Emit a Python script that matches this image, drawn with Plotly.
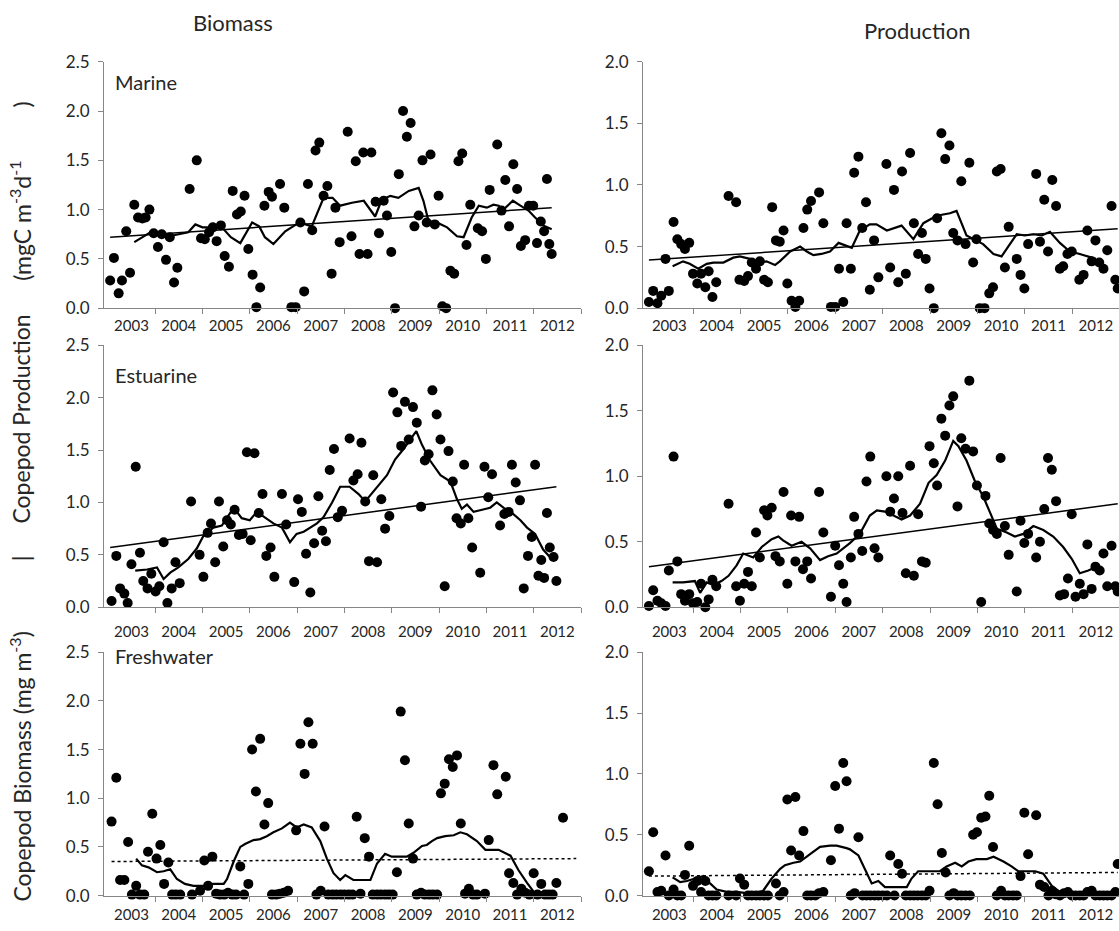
import plotly.graph_objects as go

# ---------------- data (decimal year, value) ----------------
marine_biomass = [
(2003.05,0.28),(2003.13,0.51),(2003.23,0.15),(2003.30,0.28),(2003.39,0.78),(2003.47,0.36),(2003.56,1.05),(2003.64,0.92),(2003.73,0.91),(2003.80,0.92),(2003.88,1.00),(2003.97,0.76),
(2004.06,0.62),(2004.14,0.75),(2004.23,0.49),(2004.31,0.72),(2004.40,0.26),(2004.47,0.41),(2004.73,1.21),(2004.88,1.50),(2004.97,0.71),
(2005.05,0.70),(2005.14,0.77),(2005.22,0.82),(2005.30,0.68),(2005.39,0.84),(2005.47,0.53),(2005.56,0.42),(2005.64,1.19),(2005.73,0.95),(2005.81,0.98),(2005.89,1.14),(2005.97,0.60),
(2006.06,0.34),(2006.14,0.01),(2006.22,0.21),(2006.31,1.04),(2006.40,1.18),(2006.47,1.13),(2006.64,1.26),(2006.73,1.02),(2006.88,0.01),(2006.97,0.01),
(2007.07,0.87),(2007.15,0.17),(2007.23,1.26),(2007.32,0.79),(2007.39,1.60),(2007.47,1.68),(2007.56,1.14),(2007.64,1.24),(2007.73,0.35),(2007.81,1.02),(2007.90,0.67),
(2008.07,1.79),(2008.15,0.73),(2008.24,1.49),(2008.32,0.55),(2008.40,1.58),(2008.49,0.55),(2008.57,1.58),(2008.66,1.08),(2008.73,0.76),(2008.83,1.09),(2008.90,0.94),(2008.99,0.57),
(2009.07,0.00),(2009.15,1.36),(2009.24,2.00),(2009.32,1.74),(2009.40,1.88),(2009.48,0.83),(2009.57,0.94),(2009.65,1.50),(2009.74,0.87),(2009.82,1.56),(2009.91,0.85),(2009.99,1.14),
(2010.07,0.02),(2010.15,0.00),(2010.24,0.38),(2010.32,0.35),(2010.41,1.49),(2010.49,1.57),(2010.58,0.64),(2010.66,1.05),(2010.82,0.81),(2010.91,0.78),(2010.99,0.50),
(2011.07,1.20),(2011.23,1.66),(2011.32,0.99),(2011.40,1.30),(2011.48,0.83),(2011.57,1.46),(2011.65,1.21),(2011.73,0.63),(2011.82,0.69),(2011.90,1.04),(2011.99,1.04),
(2012.07,0.66),(2012.15,0.88),(2012.22,0.78),(2012.28,1.31),(2012.33,0.65),(2012.38,0.55)]

marine_production = [
(2003.07,0.05),(2003.16,0.14),(2003.25,0.04),(2003.33,0.10),(2003.42,0.40),(2003.49,0.14),(2003.59,0.70),(2003.67,0.56),(2003.75,0.52),(2003.83,0.48),(2003.92,0.53),
(2004.00,0.28),(2004.09,0.20),(2004.17,0.28),(2004.26,0.17),(2004.33,0.30),(2004.41,0.09),(2004.49,0.21),(2004.75,0.91),(2004.91,0.86),(2004.98,0.23),
(2005.08,0.22),(2005.16,0.26),(2005.24,0.37),(2005.33,0.32),(2005.41,0.38),(2005.50,0.23),(2005.58,0.21),(2005.67,0.82),(2005.75,0.55),(2005.83,0.54),(2005.91,0.63),(2005.99,0.20),
(2006.08,0.06),(2006.16,0.01),(2006.24,0.06),(2006.33,0.65),(2006.41,0.80),(2006.49,0.87),(2006.66,0.94),(2006.75,0.69),(2006.91,0.01),(2007.00,0.01),
(2007.08,0.32),(2007.17,0.05),(2007.24,0.69),(2007.33,0.32),(2007.40,1.10),(2007.49,1.23),(2007.57,0.65),(2007.65,0.86),(2007.73,0.15),(2007.82,0.55),(2007.91,0.25),
(2008.08,1.17),(2008.16,0.33),(2008.24,0.96),(2008.33,0.21),(2008.41,1.11),(2008.49,0.28),(2008.58,1.26),(2008.66,0.69),(2008.75,0.44),(2008.83,0.61),(2008.91,0.40),(2008.99,0.16),
(2009.08,0.00),(2009.15,0.73),(2009.24,1.42),(2009.32,1.21),(2009.41,1.32),(2009.49,0.61),(2009.58,0.55),(2009.66,1.03),(2009.75,0.52),(2009.83,1.18),(2009.91,0.37),(2009.98,0.56),
(2010.05,0.00),(2010.15,0.00),(2010.25,0.12),(2010.33,0.17),(2010.41,1.11),(2010.49,1.13),(2010.58,0.33),(2010.66,0.66),(2010.83,0.40),(2010.91,0.27),(2010.99,0.16),
(2011.07,0.52),(2011.24,1.09),(2011.32,0.54),(2011.41,0.88),(2011.49,0.46),(2011.58,1.04),(2011.66,0.83),(2011.74,0.32),(2011.81,0.34),(2011.90,0.44),(2011.99,0.46),
(2012.15,0.23),(2012.24,0.27),(2012.32,0.63),(2012.41,0.38),(2012.49,0.55),(2012.57,0.37),(2012.66,0.32),(2012.74,0.47),(2012.83,0.83),(2012.91,0.23),(2012.96,0.16)]

estuarine_biomass = [
(2003.08,0.06),(2003.18,0.49),(2003.26,0.18),(2003.35,0.13),(2003.42,0.04),(2003.50,0.41),(2003.59,1.34),(2003.68,0.52),(2003.75,0.25),(2003.84,0.18),(2003.92,0.32),
(2004.01,0.15),(2004.09,0.20),(2004.18,0.62),(2004.26,0.04),(2004.35,0.18),(2004.43,0.43),(2004.52,0.23),(2004.76,1.01),(2004.94,0.50),
(2005.02,0.29),(2005.11,0.71),(2005.18,0.80),(2005.27,0.43),(2005.35,1.01),(2005.44,0.58),(2005.52,0.83),(2005.60,0.79),(2005.68,0.93),(2005.77,0.69),(2005.85,0.70),(2005.94,1.48),
(2006.02,0.64),(2006.10,1.47),(2006.19,0.90),(2006.27,1.08),(2006.35,0.49),(2006.44,0.57),(2006.52,0.29),(2006.68,1.08),(2006.77,0.79),(2006.94,0.24),
(2007.02,1.03),(2007.10,0.91),(2007.19,0.51),(2007.28,0.14),(2007.36,0.61),(2007.45,1.06),(2007.53,0.73),(2007.61,0.63),(2007.69,1.31),(2007.78,1.51),(2007.86,0.86),(2007.95,0.92),
(2008.11,1.61),(2008.19,1.21),(2008.28,1.27),(2008.36,1.57),(2008.44,1.01),(2008.52,0.44),(2008.61,1.26),(2008.69,0.43),(2008.78,1.03),(2008.86,0.75),(2008.95,0.87),
(2009.03,2.05),(2009.12,1.86),(2009.20,1.54),(2009.28,1.96),(2009.36,1.60),(2009.45,1.91),(2009.53,1.76),(2009.62,0.96),(2009.70,1.40),(2009.78,1.46),(2009.86,2.07),(2009.95,1.84),
(2010.03,1.60),(2010.12,0.20),(2010.20,1.49),(2010.29,1.20),(2010.37,0.85),(2010.46,0.80),(2010.53,1.36),(2010.62,0.85),(2010.70,0.57),(2010.87,0.33),(2010.96,1.34),
(2011.04,1.05),(2011.12,1.27),(2011.29,0.78),(2011.38,0.89),(2011.47,0.91),(2011.54,1.36),(2011.62,1.19),(2011.71,1.02),(2011.79,0.18),(2011.88,0.49),(2011.96,0.67),
(2012.03,1.36),(2012.10,0.30),(2012.16,0.45),(2012.22,0.28),(2012.28,0.90),(2012.34,0.57),(2012.42,0.48),(2012.48,0.25)]

estuarine_production = [
(2003.07,0.01),(2003.16,0.13),(2003.25,0.05),(2003.33,0.03),(2003.42,0.01),(2003.49,0.28),(2003.59,1.15),(2003.67,0.35),(2003.75,0.10),(2003.83,0.05),(2003.92,0.10),
(2004.00,0.03),(2004.09,0.04),(2004.17,0.18),(2004.26,0.00),(2004.33,0.06),(2004.41,0.21),(2004.49,0.16),(2004.75,0.79),(2004.91,0.16),(2004.99,0.05),
(2005.08,0.18),(2005.16,0.27),(2005.24,0.16),(2005.33,0.57),(2005.41,0.38),(2005.50,0.74),(2005.57,0.70),(2005.66,0.76),(2005.74,0.39),(2005.83,0.35),(2005.91,0.88),(2005.99,0.18),
(2006.07,0.70),(2006.16,0.35),(2006.24,0.69),(2006.32,0.29),(2006.41,0.35),(2006.49,0.22),(2006.66,0.88),(2006.75,0.57),(2006.91,0.08),(2007.00,0.47),
(2007.08,0.32),(2007.17,0.18),(2007.24,0.04),(2007.33,0.38),(2007.40,0.69),(2007.49,0.56),(2007.57,0.43),(2007.66,0.96),(2007.74,1.15),(2007.83,0.45),(2007.91,0.38),
(2008.08,1.00),(2008.16,0.73),(2008.24,0.83),(2008.33,1.00),(2008.42,0.72),(2008.49,0.26),(2008.58,1.08),(2008.66,0.24),(2008.75,0.71),(2008.83,0.35),(2008.91,0.34),(2008.99,1.23),
(2009.08,1.10),(2009.15,0.93),(2009.24,1.44),(2009.32,1.31),(2009.41,1.54),(2009.49,1.61),(2009.58,0.77),(2009.66,1.29),(2009.75,1.21),(2009.83,1.73),(2009.91,1.19),(2009.99,0.93),
(2010.08,0.04),(2010.17,0.85),(2010.25,0.64),(2010.33,0.59),(2010.41,0.56),(2010.49,1.14),(2010.58,0.62),(2010.66,0.40),(2010.83,0.12),(2010.91,0.66),(2010.99,0.49),
(2011.07,0.56),(2011.24,0.38),(2011.32,0.50),(2011.41,0.75),(2011.49,1.14),(2011.57,1.05),(2011.66,0.81),(2011.74,0.09),(2011.83,0.10),(2011.91,0.22),(2011.99,0.71),
(2012.07,0.08),(2012.16,0.18),(2012.24,0.10),(2012.32,0.48),(2012.41,0.14),(2012.49,0.31),(2012.58,0.28),(2012.66,0.41),(2012.74,0.16),(2012.83,0.47),(2012.91,0.16),(2012.96,0.12)]

freshwater_biomass = [
(2003.08,0.76),(2003.18,1.21),(2003.26,0.16),(2003.35,0.16),(2003.43,0.55),(2003.51,0.01),(2003.60,0.10),(2003.68,0.01),(2003.77,0.01),(2003.85,0.45),(2003.94,0.84),
(2004.03,0.38),(2004.11,0.52),(2004.19,0.12),(2004.28,0.34),(2004.36,0.01),(2004.44,0.01),(2004.53,0.01),(2004.78,0.01),(2004.95,0.05),
(2005.04,0.36),(2005.12,0.10),(2005.21,0.40),(2005.29,0.02),(2005.37,0.01),(2005.46,0.01),(2005.54,0.03),(2005.63,0.01),(2005.71,0.01),(2005.80,0.30),(2005.88,0.01),(2005.97,0.12),
(2006.05,1.50),(2006.13,1.07),(2006.22,1.61),(2006.31,0.73),(2006.39,0.95),(2006.47,0.01),(2006.56,0.01),(2006.64,0.02),(2006.72,0.03),(2006.81,0.05),(2006.98,0.67),
(2007.07,1.56),(2007.16,1.25),(2007.24,1.78),(2007.33,1.56),(2007.41,0.01),(2007.50,0.05),(2007.58,0.71),(2007.66,0.01),(2007.75,0.01),(2007.83,0.01),(2007.92,0.01),
(2008.00,0.01),(2008.09,0.01),(2008.17,0.01),(2008.26,0.81),(2008.34,0.02),(2008.43,0.59),(2008.52,0.40),(2008.60,0.01),(2008.69,0.01),(2008.77,0.01),(2008.86,0.01),(2008.94,0.01),
(2009.02,0.01),(2009.11,0.24),(2009.19,1.89),(2009.28,1.39),(2009.36,0.74),(2009.45,0.38),(2009.53,0.01),(2009.62,0.03),(2009.70,0.01),(2009.79,0.01),(2009.87,0.01),(2009.96,0.01),
(2010.04,1.05),(2010.12,1.15),(2010.21,1.40),(2010.29,1.32),(2010.38,1.44),(2010.46,0.74),(2010.55,0.02),(2010.63,0.07),(2010.72,0.01),(2010.80,0.01),(2010.97,0.02),
(2011.05,0.57),(2011.15,1.34),(2011.23,1.04),(2011.41,1.22),(2011.48,0.23),(2011.57,0.13),(2011.65,0.01),(2011.74,0.07),(2011.82,0.03),(2011.91,0.01),
(2012.00,0.23),(2012.08,0.01),(2012.16,0.12),(2012.24,0.01),(2012.32,0.01),(2012.40,0.01),(2012.48,0.13),(2012.62,0.80)]

freshwater_production = [
(2003.07,0.20),(2003.16,0.52),(2003.25,0.03),(2003.33,0.04),(2003.42,0.33),(2003.49,0.00),(2003.59,0.05),(2003.67,0.00),(2003.75,0.00),(2003.83,0.17),(2003.92,0.41),
(2004.00,0.08),(2004.09,0.12),(2004.17,0.03),(2004.26,0.12),(2004.33,0.00),(2004.41,0.00),(2004.49,0.00),(2004.75,0.00),(2004.91,0.00),(2004.99,0.14),
(2005.08,0.09),(2005.16,0.00),(2005.24,0.00),(2005.33,0.00),(2005.41,0.00),(2005.50,0.00),(2005.58,0.00),(2005.75,0.10),(2005.83,0.00),(2005.91,0.03),
(2005.99,0.79),(2006.07,0.37),(2006.16,0.81),(2006.24,0.33),(2006.33,0.53),(2006.41,0.00),(2006.49,0.00),(2006.58,0.00),(2006.66,0.02),(2006.75,0.03),(2006.91,0.29),
(2007.00,0.90),(2007.08,0.55),(2007.17,1.09),(2007.24,0.94),(2007.33,0.00),(2007.41,0.02),(2007.49,0.48),(2007.58,0.00),(2007.66,0.00),(2007.74,0.00),(2007.83,0.00),(2007.91,0.00),
(2008.00,0.00),(2008.09,0.00),(2008.16,0.33),(2008.25,0.00),(2008.33,0.26),(2008.41,0.18),(2008.49,0.00),(2008.58,0.00),(2008.66,0.00),(2008.74,0.00),(2008.83,0.00),(2008.91,0.00),(2008.99,0.04),
(2009.08,1.09),(2009.16,0.75),(2009.25,0.35),(2009.33,0.19),(2009.41,0.00),(2009.50,0.02),(2009.58,0.00),(2009.66,0.00),(2009.75,0.00),(2009.84,0.00),(2009.91,0.50),(2009.99,0.52),
(2010.08,0.64),(2010.17,0.65),(2010.25,0.82),(2010.33,0.40),(2010.41,0.00),(2010.50,0.04),(2010.58,0.00),(2010.66,0.00),(2010.75,0.00),(2010.83,0.00),(2010.91,0.16),(2010.99,0.68),
(2011.07,0.34),(2011.24,0.66),(2011.32,0.09),(2011.41,0.07),(2011.50,0.00),(2011.57,0.04),(2011.66,0.01),(2011.74,0.00),(2011.83,0.02),(2011.91,0.03),(2011.99,0.00),
(2012.07,0.00),(2012.16,0.00),(2012.24,0.00),(2012.32,0.03),(2012.41,0.04),(2012.49,0.00),(2012.58,0.00),(2012.66,0.00),(2012.74,0.00),(2012.83,0.00),(2012.91,0.03),(2012.96,0.26)]

# running-mean curves
marine_biomass_ma = [(2003.56,0.67),(2003.72,0.72),(2003.90,0.77),(2004.10,0.77),(2004.30,0.73),(2004.50,0.75),(2004.70,0.77),(2004.85,0.85),(2005.00,0.82),(2005.15,0.82),(2005.30,0.83),(2005.45,0.80),(2005.60,0.72),(2005.80,0.66),(2006.05,0.87),(2006.20,0.83),(2006.32,0.72),(2006.50,0.65),(2006.75,0.78),(2007.05,0.87),(2007.31,0.83),(2007.56,1.12),(2007.75,1.12),(2007.91,1.04),(2008.16,1.07),(2008.41,1.09),(2008.65,0.93),(2008.79,1.10),(2008.97,1.14),(2009.14,1.12),(2009.36,1.19),(2009.57,1.22),(2009.67,1.09),(2009.78,0.88),(2009.95,0.87),(2010.17,0.82),(2010.38,0.73),(2010.52,0.72),(2010.69,0.92),(2010.84,1.04),(2011.01,1.02),(2011.15,1.05),(2011.26,1.04),(2011.36,1.00),(2011.56,1.09),(2011.72,1.04),(2011.89,0.99),(2012.03,0.92),(2012.20,0.84),(2012.38,0.80)]
marine_production_ma = [(2003.57,0.34),(2003.79,0.38),(2003.93,0.36),(2004.11,0.32),(2004.29,0.36),(2004.43,0.37),(2004.64,0.37),(2004.85,0.41),(2004.99,0.42),(2005.20,0.40),(2005.41,0.37),(2005.55,0.38),(2005.73,0.35),(2005.83,0.38),(2006.05,0.46),(2006.26,0.50),(2006.40,0.46),(2006.54,0.43),(2006.71,0.44),(2006.89,0.46),(2007.07,0.53),(2007.35,0.49),(2007.52,0.63),(2007.73,0.68),(2007.87,0.68),(2008.09,0.63),(2008.40,0.67),(2008.65,0.56),(2008.86,0.69),(2009.14,0.75),(2009.42,0.77),(2009.56,0.79),(2009.77,0.59),(2009.91,0.56),(2010.12,0.52),(2010.34,0.44),(2010.51,0.42),(2010.65,0.50),(2010.83,0.60),(2011.00,0.59),(2011.18,0.60),(2011.36,0.59),(2011.53,0.62),(2011.74,0.53),(2011.95,0.46),(2012.16,0.44),(2012.34,0.42),(2012.50,0.40)]
estuarine_biomass_ma = [(2003.58,0.35),(2003.83,0.36),(2004.04,0.38),(2004.18,0.27),(2004.32,0.33),(2004.49,0.38),(2004.70,0.46),(2004.88,0.56),(2005.02,0.68),(2005.23,0.76),(2005.41,0.78),(2005.59,0.90),(2005.66,0.95),(2005.83,0.85),(2006.00,0.83),(2006.15,0.91),(2006.30,0.86),(2006.50,0.80),(2006.68,0.76),(2006.85,0.62),(2006.99,0.70),(2007.14,0.72),(2007.42,0.80),(2007.56,0.86),(2007.74,1.00),(2007.91,1.15),(2008.11,1.15),(2008.30,1.08),(2008.44,1.01),(2008.62,1.11),(2008.90,1.26),(2009.07,1.41),(2009.25,1.51),(2009.39,1.60),(2009.52,1.68),(2009.64,1.55),(2009.81,1.40),(2010.03,1.26),(2010.24,1.20),(2010.38,1.03),(2010.48,0.94),(2010.59,0.98),(2010.73,0.91),(2010.91,0.93),(2011.08,0.95),(2011.22,1.00),(2011.36,0.95),(2011.54,0.90),(2011.72,0.83),(2011.86,0.76),(2012.03,0.70),(2012.20,0.55),(2012.40,0.45)]
estuarine_production_ma = [(2003.57,0.19),(2003.79,0.19),(2004.04,0.20),(2004.15,0.11),(2004.29,0.19),(2004.43,0.17),(2004.60,0.20),(2004.75,0.24),(2004.92,0.32),(2005.06,0.41),(2005.27,0.38),(2005.45,0.46),(2005.66,0.52),(2005.80,0.54),(2005.90,0.51),(2006.08,0.47),(2006.29,0.50),(2006.47,0.45),(2006.68,0.36),(2006.85,0.39),(2007.03,0.41),(2007.31,0.49),(2007.52,0.56),(2007.73,0.70),(2007.88,0.74),(2008.05,0.73),(2008.23,0.70),(2008.40,0.67),(2008.58,0.70),(2008.79,0.79),(2008.97,0.95),(2009.14,1.01),(2009.32,1.12),(2009.49,1.27),(2009.60,1.23),(2009.77,1.12),(2009.95,0.96),(2010.13,0.84),(2010.27,0.72),(2010.41,0.60),(2010.62,0.57),(2010.79,0.54),(2010.97,0.56),(2011.18,0.62),(2011.39,0.59),(2011.60,0.54),(2011.81,0.46),(2011.99,0.37),(2012.16,0.26),(2012.34,0.28),(2012.52,0.31)]
freshwater_biomass_ma = [(2003.60,0.38),(2003.72,0.31),(2003.86,0.29),(2004.04,0.24),(2004.18,0.25),(2004.32,0.27),(2004.46,0.17),(2004.63,0.12),(2004.81,0.10),(2005.02,0.10),(2005.23,0.12),(2005.45,0.12),(2005.52,0.17),(2005.66,0.35),(2005.80,0.50),(2005.90,0.53),(2006.08,0.57),(2006.22,0.58),(2006.36,0.61),(2006.50,0.65),(2006.68,0.69),(2006.85,0.75),(2006.99,0.70),(2007.14,0.73),(2007.31,0.70),(2007.49,0.56),(2007.63,0.38),(2007.77,0.23),(2007.91,0.16),(2008.02,0.21),(2008.19,0.16),(2008.33,0.16),(2008.55,0.16),(2008.69,0.33),(2008.86,0.43),(2009.00,0.40),(2009.18,0.40),(2009.32,0.40),(2009.46,0.44),(2009.64,0.51),(2009.74,0.52),(2009.85,0.56),(2009.96,0.59),(2010.13,0.61),(2010.31,0.62),(2010.45,0.65),(2010.59,0.63),(2010.80,0.56),(2010.98,0.47),(2011.12,0.47),(2011.26,0.47),(2011.51,0.41),(2011.68,0.26),(2011.86,0.13),(2012.03,0.02),(2012.20,0.03)]
freshwater_production_ma = [(2003.57,0.15),(2003.73,0.11),(2003.87,0.12),(2004.04,0.14),(2004.22,0.16),(2004.36,0.10),(2004.50,0.05),(2004.71,0.03),(2004.92,0.03),(2005.13,0.02),(2005.34,0.02),(2005.48,0.04),(2005.66,0.14),(2005.84,0.22),(2005.94,0.25),(2006.12,0.27),(2006.26,0.28),(2006.47,0.34),(2006.68,0.40),(2006.89,0.41),(2007.03,0.41),(2007.24,0.39),(2007.31,0.38),(2007.49,0.33),(2007.63,0.22),(2007.77,0.10),(2007.91,0.12),(2008.05,0.07),(2008.23,0.07),(2008.51,0.07),(2008.61,0.14),(2008.75,0.20),(2008.93,0.20),(2009.21,0.20),(2009.35,0.24),(2009.53,0.27),(2009.67,0.24),(2009.81,0.28),(2009.98,0.30),(2010.20,0.30),(2010.34,0.32),(2010.55,0.28),(2010.72,0.24),(2010.86,0.20),(2011.00,0.20),(2011.22,0.20),(2011.39,0.18),(2011.57,0.08),(2011.74,0.03),(2011.95,0.02),(2012.20,0.02),(2012.45,0.02)]

# linear trend end points
marine_biomass_trend = [(2003.05,0.72),(2012.38,1.02)]
marine_production_trend = [(2003.07,0.39),(2012.96,0.645)]
estuarine_biomass_trend = [(2003.05,0.57),(2012.48,1.15)]
estuarine_production_trend = [(2003.07,0.31),(2012.96,0.79)]
freshwater_biomass_trend = [(2003.08,0.35),(2012.90,0.38)]
freshwater_production_trend = [(2003.07,0.16),(2012.96,0.19)]

years = list(range(2003, 2013))
year_labels = [str(y) for y in years]
panel_names = ["Marine", "Estuarine", "Freshwater"]

# ---------------- layout helpers (page pixels -> paper) ----------------
W, H = 1119, 931
def xf(p):
    return p / W
def yf(p):
    return 1 - p / H

FONT = "Lato, 'Open Sans', sans-serif"
AX = "#868686"
TXT = "#262626"

fig = go.Figure()

panels = [
    # points, ma, trend, dotted, col, ymax, y_top_px, y_bot_px, label_pad
    (marine_biomass, marine_biomass_ma, marine_biomass_trend, False, 0, 2.5, 52, 304, 4),
    (marine_production, marine_production_ma, marine_production_trend, False, 1, 2.0, 52, 304, 4),
    (estuarine_biomass, estuarine_biomass_ma, estuarine_biomass_trend, False, 0, 2.5, 342, 610, 11),
    (estuarine_production, estuarine_production_ma, estuarine_production_trend, False, 1, 2.0, 342, 610, 11),
    (freshwater_biomass, freshwater_biomass_ma, freshwater_biomass_trend, True, 0, 2.5, 656, 905, 5),
    (freshwater_production, freshwater_production_ma, freshwater_production_trend, True, 1, 2.0, 656, 905, 5),
]

for i, (pts, ma, tr, dotted, col, ymax, ytop, ybot, pad) in enumerate(panels):
    n = i + 1
    xa = "x" if n == 1 else f"x{n}"
    ya = "y" if n == 1 else f"y{n}"
    xs, ys = zip(*pts)
    mx, my = zip(*ma)
    tx, ty = zip(*tr)
    fig.add_trace(go.Scatter(x=tx, y=ty, mode="lines", xaxis=xa, yaxis=ya,
                             line=dict(color="black", width=1.5, dash="dot" if dotted else "solid"),
                             showlegend=False, hoverinfo="skip"))
    fig.add_trace(go.Scatter(x=mx, y=my, mode="lines", xaxis=xa, yaxis=ya,
                             line=dict(color="black", width=2.2), showlegend=False))
    fig.add_trace(go.Scatter(x=xs, y=ys, mode="markers", xaxis=xa, yaxis=ya,
                             marker=dict(color="black", size=10), cliponaxis=False,
                             showlegend=False))
    if col == 0:
        dom_x = [xf(104), xf(581)]
        rng_x = [2002.92, 2013.0]
    else:
        dom_x = [xf(643), 1.0]
        rng_x = [2002.945, 2003 + (W - 645.6) / 47.4]
    xkey = "xaxis" if n == 1 else f"xaxis{n}"
    ykey = "yaxis" if n == 1 else f"yaxis{n}"
    fig.update_layout(**{
        xkey: dict(domain=dom_x, range=rng_x, anchor=ya,
                   tickmode="array", tickvals=[y + 0.5 for y in years], ticktext=year_labels,
                   ticks="outside", ticklen=pad, tickcolor="rgba(0,0,0,0)",
                   ticklabeloverflow="allow",
                   showline=True, linecolor=AX, linewidth=1,
                   showgrid=False, zeroline=False,
                   tickfont=dict(family=FONT, size=15, color=TXT),
                   minor=dict(tickmode="array", tickvals=list(range(2004, 2014)),
                              ticks="outside", ticklen=5, tickcolor=AX, tickwidth=1, showgrid=False)),
        ykey: dict(domain=[yf(ybot), yf(ytop)], range=[0, ymax], anchor=xa,
                   tickmode="linear", tick0=0, dtick=0.5, tickformat=".1f",
                   ticks="outside", ticklen=5, tickcolor=AX, showline=True, linecolor=AX, linewidth=1,
                   showgrid=False, zeroline=False, ticklabelstandoff=5,
                   tickfont=dict(family=FONT, size=17, color=TXT)),
    })

NB = "\u00a0"
# vertical axis title, laid out in pieces along the left edge
ytitle_parts = [
    ("Copepod Biomass (mg m<sup>-3</sup>)", 773),
    ("|", 560),
    ("Copepod Production", 418),
    ("(mgC m<sup>-3</sup>d<sup>-1</sup>" + NB * 9 + ")", 184),
]

annotations = [
    dict(text="Biomass", x=xf(233), y=yf(12), xref="paper", yref="paper", showarrow=False,
         font=dict(family=FONT, size=22, color=TXT), xanchor="center", yanchor="middle"),
    dict(text="Production", x=xf(917), y=yf(20), xref="paper", yref="paper", showarrow=False,
         font=dict(family=FONT, size=22, color=TXT), xanchor="center", yanchor="middle"),
]
for txt, ypx in ytitle_parts:
    annotations.append(dict(text=txt, x=xf(21), y=yf(ypx), xref="paper", yref="paper",
                            showarrow=False, textangle=-90, xanchor="center", yanchor="middle",
                            font=dict(family=FONT, size=23, color=TXT)))
for name, ypx in zip(panel_names, [73, 372, 660]):
    annotations.append(dict(text=name, x=xf(113), y=yf(ypx), xref="paper", yref="paper",
                            showarrow=False, xanchor="left", yanchor="middle",
                            font=dict(family=FONT, size=20, color=TXT)))

fig.update_layout(width=W, height=H, margin=dict(l=0, r=0, t=0, b=0),
                  paper_bgcolor="white", plot_bgcolor="white",
                  annotations=annotations, showlegend=False)

fig.write_html("out.html", config={"displayModeBar": False},
               post_script="document.body.style.margin='0';"
                           "document.body.style.overflow='hidden';"
                           "document.documentElement.style.overflow='hidden';")
